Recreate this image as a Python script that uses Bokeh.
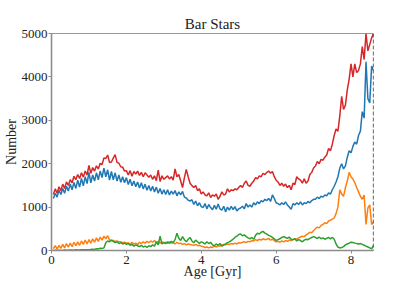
from bokeh.plotting import figure
from bokeh.models import Span, Range1d, FixedTicker
from bokeh.embed import file_html
from bokeh.resources import INLINE

# ---- data ----
ages = [round(0.05 * (i + 1), 2) for i in range(172)]
max_age = 8.6
y_max = 5000
x_ticks = [0, 2, 4, 6, 8]
y_ticks = [0, 1000, 2000, 3000, 4000, 5000]

blue = [
    1200, 1320, 1230, 1390, 1290, 1430, 1320, 1480, 1370, 1530, 1400, 1570, 1430, 1620, 1460, 1660, 1490, 1700, 1540, 1800,
    1560, 1740, 1600, 1790, 1630, 1830, 1680, 1900, 1700, 1860, 1620, 1820, 1630, 1790, 1600, 1740, 1570, 1700, 1560, 1680,
    1520, 1640, 1490, 1600, 1470, 1580, 1440, 1560, 1420, 1530, 1390, 1500, 1370, 1480, 1350, 1460, 1320, 1430, 1300, 1400,
    1290, 1400, 1280, 1370, 1300, 1380, 1260, 1350, 1280, 1360, 1230, 1210, 1160, 1140, 1170, 1060, 1140, 1030, 1100, 1010,
    990, 1080, 960, 1060, 990, 940, 1040, 950, 1070, 960, 930, 1020, 890, 1000, 930, 1020, 940, 1010, 910, 960,
    980, 1020, 960, 1080, 1000, 1050, 1000, 1100, 1050, 1120, 1080, 1150, 1120, 1180, 1150, 1200, 1130, 1280, 1200, 1100,
    1080, 1050, 1100, 1060, 1120, 1050, 1000, 950, 1080, 1050, 1100, 1060, 1120, 1050, 1100, 1080, 1130, 1100, 1150, 1180,
    1180, 1230, 1200, 1250, 1230, 1280, 1260, 1330, 1300, 1400, 1480, 1580, 1700, 1900, 2000, 1880, 1950, 2150, 2300, 2250,
    2400, 2500, 2450, 2650, 2750, 3200, 3050, 4350, 3500, 3400, 4250, 4150,
]

orange = [
    40, 110, 30, 120, 50, 140, 60, 160, 80, 170, 90, 190, 110, 200, 120, 220, 140, 240, 150, 250,
    170, 270, 190, 290, 210, 310, 240, 330, 270, 340, 240, 230, 230, 210, 220, 200, 200, 180, 190, 170,
    180, 140, 190, 150, 170, 140, 190, 160, 200, 170, 210, 180, 220, 190, 230, 180, 210, 170, 200, 180,
    190, 160, 200, 170, 180, 150, 190, 160, 170, 140, 160, 130, 150, 140, 130, 120, 140, 110, 120, 100,
    90, 70, 80, 60, 80, 70, 100, 80, 110, 100, 120, 140, 130, 150, 140, 160, 150, 170, 150, 180,
    170, 190, 200, 180, 210, 200, 230, 220, 250, 230, 260, 240, 270, 250, 260, 280, 240, 260, 230, 200,
    210, 190, 220, 200, 230, 210, 240, 230, 250, 270, 260, 290, 310, 330, 320, 360, 390, 420, 410, 460,
    500, 540, 520, 580, 600, 640, 620, 680, 700, 720, 750, 850, 1000, 1400, 1300, 1250, 1450, 1600, 1800, 1700,
    1650, 1560, 1450, 1350, 1250, 1180, 1280, 600, 980, 1050, 600, 660,
]

green = [
    0, 5, 0, 8, 2, 5, 10, 5, 8, 12, 10, 8, 15, 10, 12, 18, 15, 20, 15, 20,
    25, 30, 25, 40, 35, 50, 45, 60, 180, 220, 200, 240, 210, 180, 200, 160, 180, 150, 170, 140,
    160, 120, 140, 100, 130, 110, 90, 120, 80, 100, 70, 110, 90, 130, 100, 200, 130, 330, 150, 180,
    160, 200, 170, 210, 180, 250, 400, 280, 230, 320, 250, 200, 260, 300, 220, 180, 240, 200, 160, 200,
    180, 150, 200, 160, 190, 130, 110, 150, 120, 160, 100, 130, 150, 180, 200, 230, 260, 300, 330, 370,
    380, 340, 360, 320, 290, 270, 300, 260, 350, 400, 380, 420, 440, 400, 380, 350, 330, 300, 270, 230,
    250, 270, 300, 320, 300, 280, 310, 260, 250, 270, 220, 250, 230, 200, 240, 260, 250, 280, 300, 320,
    300, 280, 310, 270, 290, 260, 280, 300, 270, 300, 260, 150, 80, 60, 70, 90, 130, 150, 170, 190,
    185, 170, 160, 150, 160, 140, 120, 100, 80, 60, 40, 110,
]

red = [
    1290, 1420, 1320, 1470, 1380, 1530, 1430, 1580, 1500, 1630, 1560, 1710, 1630, 1750, 1660, 1790, 1690, 1830, 1740, 1960,
    1780, 1910, 1830, 1950, 1880, 2010, 1980, 2130, 2120, 2200, 2030, 2040, 2130, 2210, 2030, 2010, 1930, 1920, 1830, 1840,
    1740, 1840, 1710, 1820, 1760, 1830, 1730, 1800, 1700, 1790, 1740, 1690, 1740, 1640, 1720, 1610, 1850, 1590, 1720, 1640,
    1680, 1720, 1650, 1700, 1620, 1880, 1700, 1750, 1600, 1450, 1680, 1870, 1700, 1550, 1500, 1450, 1500, 1380, 1420, 1300,
    1350, 1280, 1260, 1330, 1220, 1280, 1250, 1300, 1180, 1250, 1350, 1280, 1300, 1420, 1350, 1400, 1380, 1420, 1400, 1450,
    1500, 1450, 1550, 1600, 1500, 1480, 1550, 1600, 1680, 1650, 1720, 1700, 1780, 1750, 1800, 1830, 1780, 1820, 1700, 1620,
    1580, 1500, 1550, 1480, 1530, 1450, 1500, 1400, 1550, 1520, 1700, 1650, 1620, 1550, 1650, 1550, 1600, 1750, 1800, 1900,
    1950, 2050, 2000, 2100, 2080, 2150, 2200, 2350, 2300, 2450, 2650, 2800, 2750, 3100, 3550, 3250, 3350, 3700, 3950, 4300,
    4000, 4300, 4100, 4150, 4300, 4700, 4400, 5000, 4600, 4750, 4900, 5000,
]

series = [
    (blue, "#1f77b4"),
    (orange, "#ff7f0e"),
    (green, "#2ca02c"),
    (red, "#d62728"),
]

FONT = "Liberation Serif"
TEXT = "#222222"
SPINE = "#8c8c8c"

p = figure(
    width=399, height=281,
    output_backend="svg", toolbar_location=None,
    x_range=Range1d(0, max_age), y_range=Range1d(0, y_max),
    title="Bar Stars",
    min_border_left=44, min_border_right=26,
    min_border_top=33, min_border_bottom=20,
)

for vals, col in series:
    p.line(ages, vals, line_color=col, line_width=1.5)

p.add_layout(Span(location=y_max, dimension="width", line_color="#333333", line_width=1))
p.add_layout(Span(location=max_age, dimension="height", line_color="black",
                  line_width=1.2, line_dash="4 2"))

p.title.text_font = FONT
p.title.text_font_size = "15px"
p.title.text_font_style = "normal"
p.title.text_color = TEXT
p.title.align = "center"
p.title.standoff = 3

p.xaxis.ticker = FixedTicker(ticks=x_ticks)
p.yaxis.ticker = FixedTicker(ticks=y_ticks)
p.xaxis.axis_label = "Age [Gyr]"
p.yaxis.axis_label = "Number"

for ax in (p.xaxis, p.yaxis):
    ax.axis_label_text_font = FONT
    ax.axis_label_text_font_size = "14px"
    ax.axis_label_text_font_style = "normal"
    ax.axis_label_text_color = TEXT
    ax.major_label_text_font = FONT
    ax.major_label_text_font_size = "13px"
    ax.major_label_text_color = TEXT
    ax.axis_line_color = SPINE
    ax.axis_line_width = 1.6
    ax.major_tick_line_color = SPINE
    ax.major_tick_in = 0
    ax.major_tick_out = 3
    ax.minor_tick_line_color = None
    ax.major_label_standoff = 1
    ax.axis_label_standoff = 0

p.xaxis.axis_label_text_line_height = 1.0
p.xaxis.major_label_text_line_height = 1.0
p.xaxis.major_label_standoff = 2
p.xaxis.axis_label_standoff = -3

p.xgrid.grid_line_color = None
p.ygrid.grid_line_color = None
p.outline_line_color = None
p.background_fill_color = "white"
p.border_fill_color = "white"

open("out.html", "w").write(file_html(p, INLINE))
